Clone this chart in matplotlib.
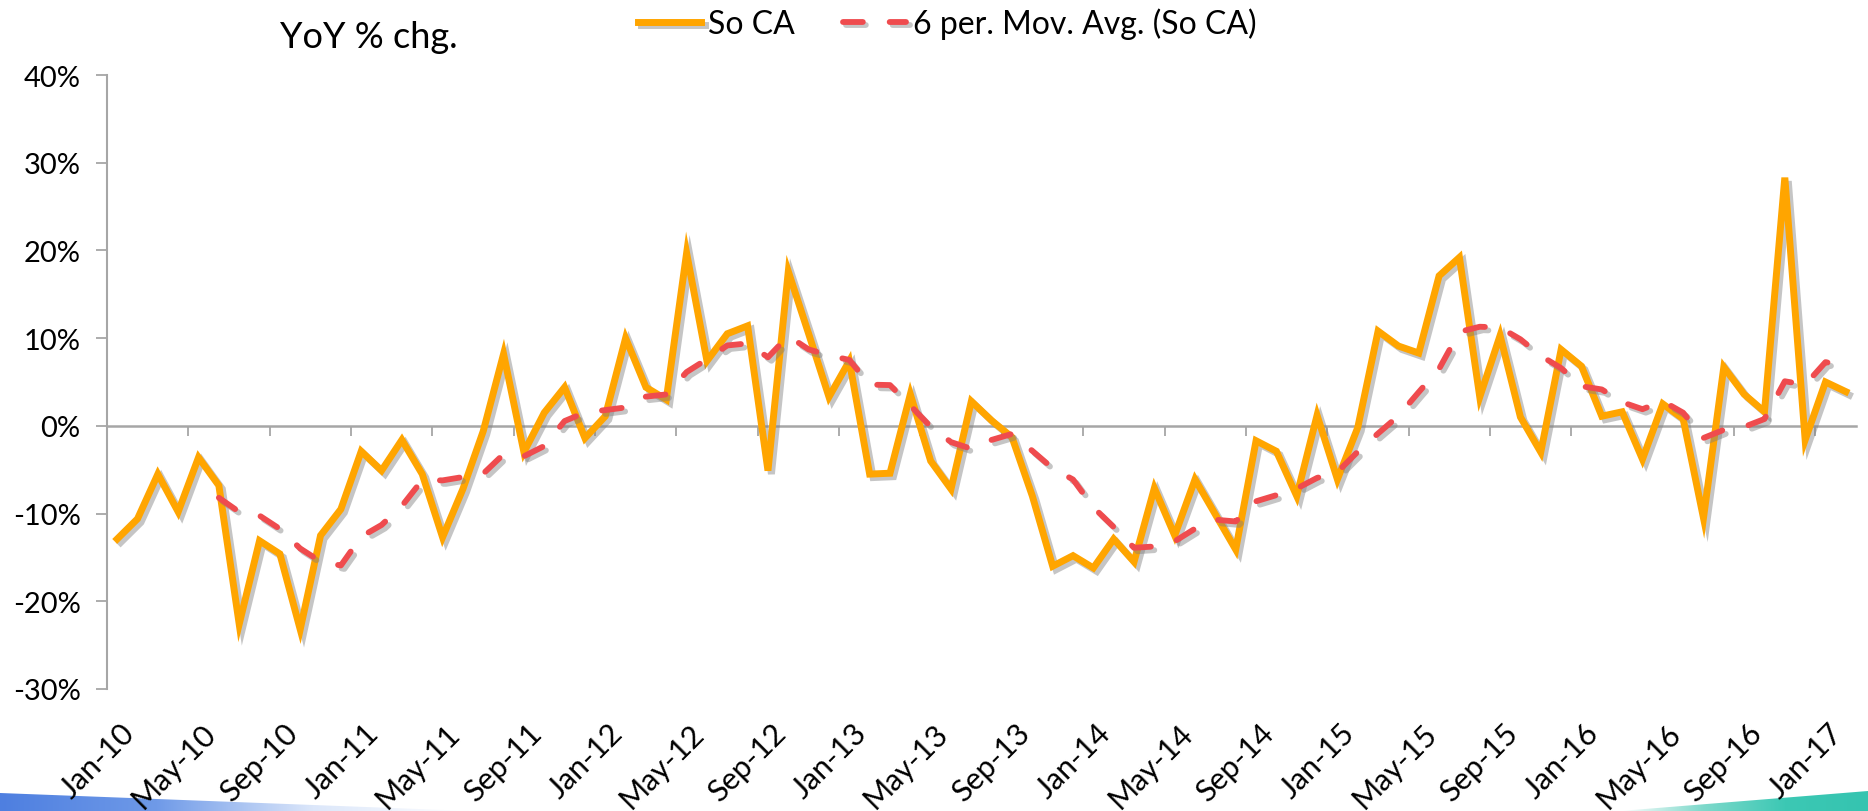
import numpy as np
import pandas as pd
import matplotlib
matplotlib.use("Agg")
import matplotlib.pyplot as plt
import matplotlib.patheffects as pe
from matplotlib.patches import Polygon
import matplotlib.transforms as mtransforms
from matplotlib.colors import LinearSegmentedColormap

plt.rcParams['font.family'] = ['Lato', 'DejaVu Sans']

# ---- data ----
months = pd.date_range("2010-01-01", "2017-02-01", freq="MS").strftime("%b-%y").tolist()
so_ca = [-12.9, -10.6, -5.5, -9.8, -3.6, -6.8, -22.6, -13.1, -14.6, -23.2, -12.5, -9.5, -2.9, -5.1,
         -1.6, -5.5, -12.7, -7.2, -0.6, 8.2, -3.0, 1.5, 4.4, -1.4, 1.1, 10.0, 4.4, 3.0, 19.7,
         7.4, 10.5, 11.4, -5.1, 17.6, 10.5, 3.3, 7.4, -5.5, -5.4, 3.6, -4.0, -7.2, 2.8,
         0.6, -1.3, -8.0, -16.0, -14.8, -16.2, -12.9, -15.5, -7.1, -12.5, -6.1, -10.1, -14.1, -1.7,
         -2.9, -8.0, 1.2, -6.1, -0.2, 10.8, 9.1, 8.3, 17.1, 19.2, 3.3, 10.3, 1.0, -3.0, 8.7,
         6.8, 1.1, 1.6, -3.8, 2.5, 0.8, -10.5, 6.7, 3.6, 1.6, 28.3, -1.6, 5.0, 3.9]
ma_window = 6
tick_labels = ["Jan-10", "May-10", "Sep-10", "Jan-11", "May-11", "Sep-11", "Jan-12", "May-12",
               "Sep-12", "Jan-13", "May-13", "Sep-13", "Jan-14", "May-14", "Sep-14", "Jan-15",
               "May-15", "Sep-15", "Jan-16", "May-16", "Sep-16", "Jan-17"]
y_ticks = [-30, -20, -10, 0, 10, 20, 30, 40]

series = pd.Series(so_ca, index=months)
mov_avg = series.rolling(ma_window).mean()

# ---- figure ----
W, H = 1868, 812
fig = plt.figure(figsize=(W / 100, H / 100), dpi=100)

# decorative slide swooshes (background layer)
bg = fig.add_axes([0, 0, 1, 1], zorder=-5)
bg.set_xlim(0, W)
bg.set_ylim(0, H)
bg.axis("off")
blue_cmap = LinearSegmentedColormap.from_list("b", ["#4E7FE0", "#6F9AE8", "#DCE7FA", "#FFFFFF"])
grad = np.linspace(0, 1, 256).reshape(1, -1)
im1 = bg.imshow(grad, cmap=blue_cmap, extent=[0, 470, 0, 20], aspect="auto")
p1 = Polygon([[0, 0], [0, 18], [470, 0]], closed=True, transform=bg.transData,
             facecolor="none", edgecolor="none")
bg.add_patch(p1)
im1.set_clip_path(p1)
teal_cmap = LinearSegmentedColormap.from_list("t", ["#FFFFFF", "#7ED9CB", "#3CC8B4", "#35C4B0"])
im2 = bg.imshow(grad, cmap=teal_cmap, extent=[1620, W, 0, 22], aspect="auto")
p2 = Polygon([[1620, 0], [W, 20], [W, 0]], closed=True, transform=bg.transData,
             facecolor="none", edgecolor="none")
bg.add_patch(p2)
im2.set_clip_path(p2)

ax = fig.add_axes([107 / W, 1 - 690 / H, (1856 - 107) / W, (690 - 76) / H])
ax.patch.set_alpha(0)

x = np.arange(len(months))
axis_gray = "#A6A6A6"

shadow = [pe.SimpleLineShadow(offset=(2.5, -2.5), shadow_color="#7f7f7f", alpha=0.45), pe.Normal()]

l1, = ax.plot(x, series.values, color="#FFA500", lw=5.0, solid_joinstyle="miter",
              label="So CA", zorder=3, path_effects=shadow)
l2, = ax.plot(x, mov_avg.values, color="#EF4B4E", lw=4.2, dash_capstyle="round",
              label="6 per. Mov. Avg. (So CA)", zorder=4, path_effects=shadow)
l2.set_dashes([3.4, 4.6])

ax.set_xlim(-0.5, len(months) - 0.5)
ax.set_ylim(-30, 40)

# y axis
ax.set_yticks(y_ticks)
ax.set_yticklabels([f"{v}%" for v in y_ticks])
ax.tick_params(axis="y", direction="out", length=8, width=1.3, color=axis_gray,
               labelsize=21, pad=11, labelcolor="black")
for s in ["top", "right", "bottom"]:
    ax.spines[s].set_visible(False)
ax.spines["left"].set_color(axis_gray)
ax.spines["left"].set_linewidth(1.5)

# x labels at bottom
label_pos = [months.index(t) for t in tick_labels]
ax.set_xticks(label_pos)
ax.set_xticklabels(tick_labels, rotation=45, ha="right", va="top", rotation_mode="anchor")
ax.tick_params(axis="x", length=0, labelsize=22, pad=21)
offset = mtransforms.ScaledTranslation(3 / 100, 0, fig.dpi_scale_trans)
for lab in ax.get_xticklabels():
    lab.set_transform(lab.get_transform() + offset)

# category axis line at zero with tick marks between categories
sec = ax.secondary_xaxis(30 / 70)
sec.set_xticks(np.arange(3.5, len(months) - 1, 4))
sec.set_xticklabels([])
sec.tick_params(axis="x", direction="out", length=7, width=1.3, color=axis_gray)
sec.spines["bottom"].set_color(axis_gray)
sec.spines["bottom"].set_linewidth(1.8)
for s in ["top", "left", "right"]:
    if s in sec.spines:
        sec.spines[s].set_visible(False)

# title
fig.text(369 / W, 1 - 37 / H, "YoY % chg.", fontsize=26, ha="center", va="center")

# legend
fig.legend(handles=[l1, l2], loc="center", bbox_to_anchor=(947 / W, 1 - 24 / H), ncol=2,
           frameon=False, fontsize=23, handlelength=2.0, handletextpad=0.2, columnspacing=1.5)

fig.savefig("out.png", dpi=100)
